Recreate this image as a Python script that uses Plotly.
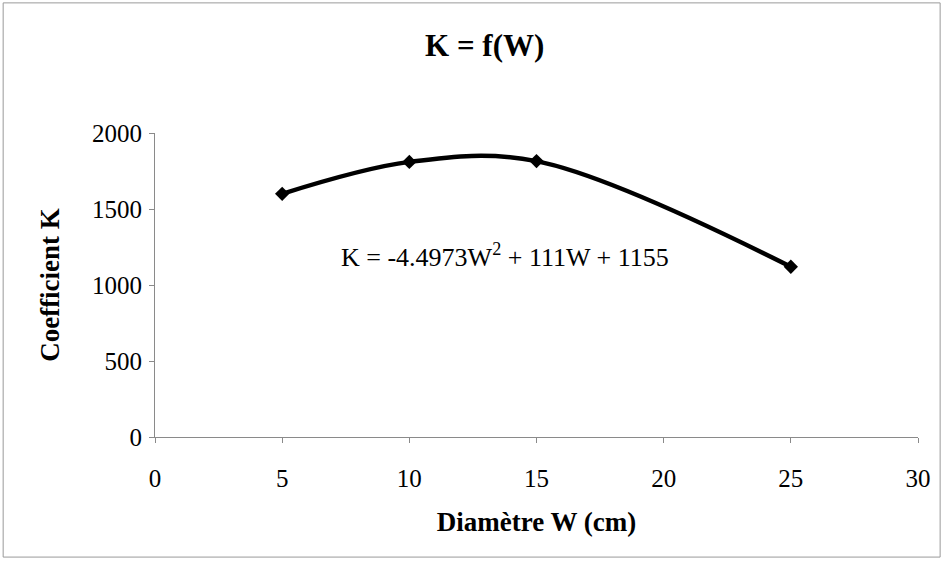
import plotly.graph_objects as go

# Data
diametre_w = [5, 10, 15, 25]
coefficient_k = [1600, 1810, 1815, 1120]

x_ticks = [0, 5, 10, 15, 20, 25, 30]
y_ticks = [0, 500, 1000, 1500, 2000]

title_text = "K = f(W)"
x_title = "Diamètre W (cm)"
y_title = "Coefficient K"
equation = "K = -4.4973W<sup>2</sup> + 111W + 1155"

serif = "Liberation Serif, Times New Roman, serif"

fig = go.Figure()

fig.add_trace(go.Scatter(
    x=diametre_w, y=coefficient_k,
    mode="lines+markers",
    line=dict(color="black", width=4.5, shape="spline", smoothing=1.0),
    marker=dict(symbol="diamond", size=11, color="black"),
    showlegend=False,
))

axis_common = dict(
    showline=True, linecolor="#8a8a8a", linewidth=1,
    ticks="outside", ticklen=5, tickcolor="#8a8a8a",
    showgrid=False, zeroline=False,
    tickfont=dict(family=serif, size=25, color="black"),
)

fig.update_xaxes(
    range=[0, 30], tickvals=x_ticks, ticklabelstandoff=14,
    title=dict(text="<b>" + x_title + "</b>",
               font=dict(family=serif, size=27, color="black"), standoff=21),
    **axis_common,
)
fig.update_yaxes(
    range=[0, 2000], tickvals=y_ticks, ticklabelstandoff=2,
    title=dict(text="<b>" + y_title + "</b>",
               font=dict(family=serif, size=27, color="black"), standoff=24),
    **axis_common,
)

fig.add_annotation(
    x=13.76, y=1197, xref="x", yref="y",
    text=equation, showarrow=False,
    font=dict(family=serif, size=26, color="black"),
)

# outer chart border
fig.add_shape(type="rect", xref="paper", yref="paper",
              x0=-0.199, x1=1.029, y0=-0.395, y1=1.428,
              line=dict(color="#9a9a9a", width=1))

fig.update_layout(
    width=943, height=562,
    title=dict(text="<b>" + title_text + "</b>", x=0.514, xanchor="center",
               y=0.92, yanchor="middle",
               font=dict(family=serif, size=31, color="black")),
    margin=dict(l=155, r=25, t=133, b=125),
    paper_bgcolor="white", plot_bgcolor="white",
)

# drop the page's default body margin so the figure sits at the top-left corner
fig.write_html("out.html", config={"displayModeBar": False},
               post_script="document.body.style.margin='0';")
